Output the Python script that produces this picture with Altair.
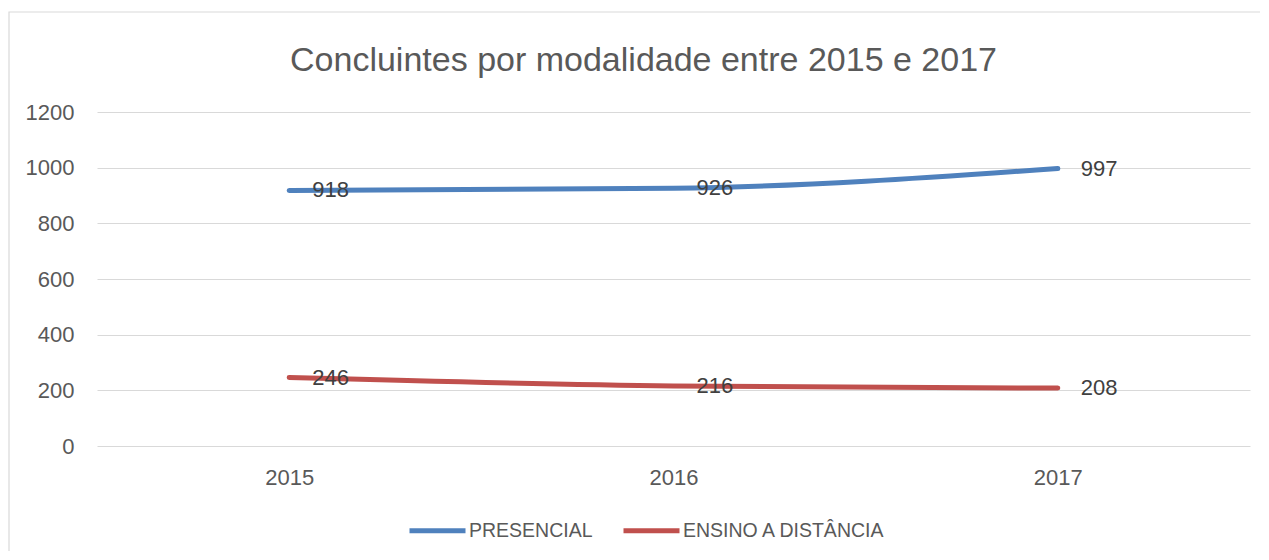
import altair as alt
import pandas as pd

years = ["2015", "2016", "2017"]
series_names = ["PRESENCIAL", "ENSINO A DISTÂNCIA"]
presencial = [918, 926, 997]
distancia = [246, 216, 208]
colors = ["#4F81BD", "#C0504D"]

rows = []
for y, v in zip(years, presencial):
    rows.append({"ano": y, "serie": series_names[0], "valor": v})
for y, v in zip(years, distancia):
    rows.append({"ano": y, "serie": series_names[1], "valor": v})
df = pd.DataFrame(rows)

FONT = "Liberation Sans"

x_enc = alt.X("ano:O", sort=years, title=None,
              scale=alt.Scale(type="point", padding=0.5),
              axis=alt.Axis(labelAngle=0, labelFontSize=22, labelColor="#595959",
                            labelPadding=21, domain=False, ticks=False, grid=False,
                            labelFont=FONT))
y_enc = alt.Y("valor:Q", title=None,
              scale=alt.Scale(domain=[0, 1200], nice=False),
              axis=alt.Axis(values=[0, 200, 400, 600, 800, 1000, 1200], format="d",
                            labelFontSize=22, labelColor="#595959", labelPadding=23,
                            domain=False, ticks=False, gridColor="#D9D9D9",
                            gridWidth=1.2, labelFont=FONT))
color_enc = alt.Color("serie:N", sort=series_names,
                      scale=alt.Scale(domain=series_names, range=colors),
                      legend=alt.Legend(title=None, orient="none", direction="horizontal",
                                        legendX=310, legendY=388, symbolType="stroke",
                                        symbolSize=3136, symbolStrokeWidth=5,
                                        labelFontSize=19.5, labelColor="#595959",
                                        labelFont=FONT, labelOffset=1, labelLimit=0,
                                        columnPadding=20, padding=0))

base = alt.Chart(df)

lines = base.mark_line(strokeWidth=5, interpolate="monotone", strokeCap="round").encode(
    x=x_enc, y=y_enc, color=color_enc
)

labels = base.mark_text(align="left", baseline="middle", dx=23, fontSize=22,
                        color="#404040", font=FONT).encode(
    x=alt.X("ano:O", sort=years), y="valor:Q", text="valor:Q"
)

border = alt.Chart(pd.DataFrame({"k": [0]})).mark_rect(
    fill=None, stroke="#D9D9D9", strokeWidth=1.2
).encode(
    x=alt.value(-88), x2=alt.value(1400), y=alt.value(-100), y2=alt.value(800)
)

chart = alt.layer(border, lines, labels).properties(
    width=1153, height=334,
    autosize=alt.AutoSizeParams(type="none"),
    padding={"left": 89, "top": 104, "right": 10, "bottom": 105},
    title=alt.TitleParams("Concluintes por modalidade entre 2015 e 2017",
                          fontSize=34, font=FONT, color="#595959", fontWeight="normal",
                          anchor="middle", frame="group", offset=-67, dx=-30),
).configure_view(stroke=None)

chart.save("out.html", embed_options={"renderer": "svg", "actions": False})
